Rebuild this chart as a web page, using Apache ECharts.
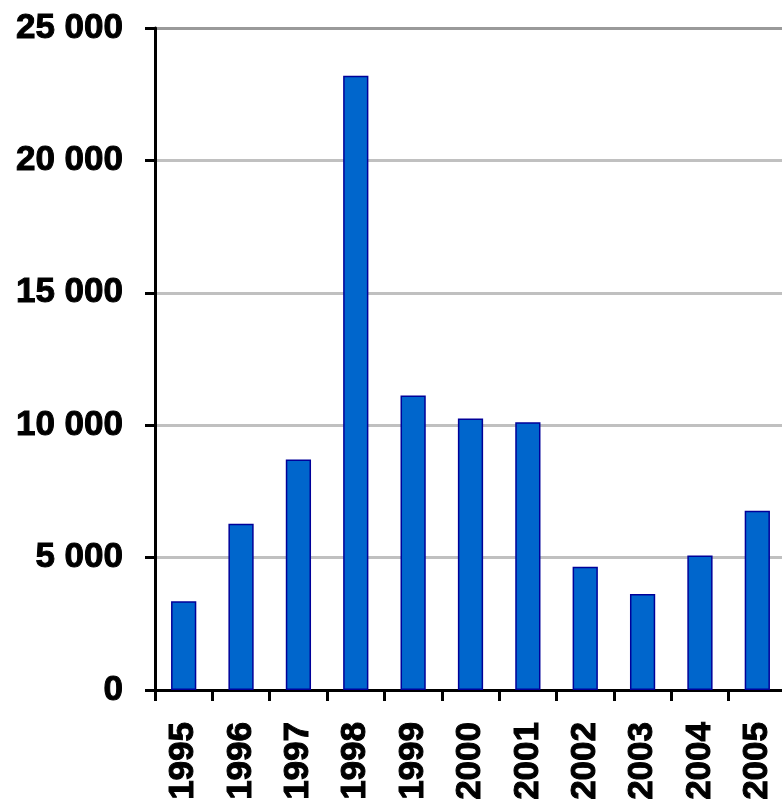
<!DOCTYPE html>
<html>
<head>
<meta charset="utf-8">
<script src="https://cdn.jsdelivr.net/npm/echarts@6/dist/echarts.min.js"></script>
<style>
  html, body { margin: 0; padding: 0; background: #fff; }
  #chart { width: 782px; height: 800px; }
</style>
</head>
<body>
<div id="chart"></div>
<script>
// Annual values, 1995–2005
var years = ['1995', '1996', '1997', '1998', '1999', '2000', '2001', '2002', '2003', '2004', '2005'];
var values = [3350, 6280, 8700, 23200, 11120, 10250, 10110, 4650, 3630, 5080, 6770];

// Value axis range and step
var yMin = 0;
var yMax = 25000;
var yStep = 5000;

// Thousands separated by a space: 25000 -> "25 000"
function spaced(v) {
  return String(v).replace(/\B(?=(\d{3})+(?!\d))/g, ' ');
}

var chart = echarts.init(document.getElementById('chart'), null, { renderer: 'canvas' });

var labelFont = {
  fontFamily: 'Liberation Sans, Arial, sans-serif',
  fontWeight: 'bold',
  fontSize: 35,
  color: '#000',
  textBorderColor: '#000',
  textBorderWidth: 1
};

chart.setOption({
  animation: false,
  backgroundColor: '#fff',
  // fixed plot rectangle; the year labels run off the bottom edge
  grid: { left: 155, right: -4, top: 28, bottom: 110, containLabel: false, outerBoundsMode: 'none' },
  xAxis: {
    type: 'category',
    data: years,
    boundaryGap: true,
    axisLine: { show: true, lineStyle: { color: '#000', width: 3 } },
    axisTick: { show: true, alignWithLabel: false, length: 11, lineStyle: { color: '#000', width: 3 } },
    axisLabel: Object.assign({ rotate: 90, margin: 32, interval: 0 }, labelFont),
    splitLine: { show: false }
  },
  yAxis: {
    type: 'value',
    min: yMin,
    max: yMax,
    interval: yStep,
    axisLine: { show: true, lineStyle: { color: '#000', width: 3 } },
    axisTick: { show: true, length: 10, lineStyle: { color: '#000', width: 3 } },
    axisLabel: Object.assign({ margin: 32, formatter: spaced }, labelFont),
    splitLine: {
      show: true,
      lineStyle: {
        color: ['#c0c0c0', '#c0c0c0', '#c0c0c0', '#c0c0c0', '#c0c0c0', '#9a9a9a'],
        width: 3
      }
    }
  },
  series: [{
    type: 'bar',
    data: values,
    barCategoryGap: '56%',
    itemStyle: {
      color: '#0066cc',
      borderColor: '#000099',
      borderWidth: 1.5
    }
  }]
});
</script>
</body>
</html>
